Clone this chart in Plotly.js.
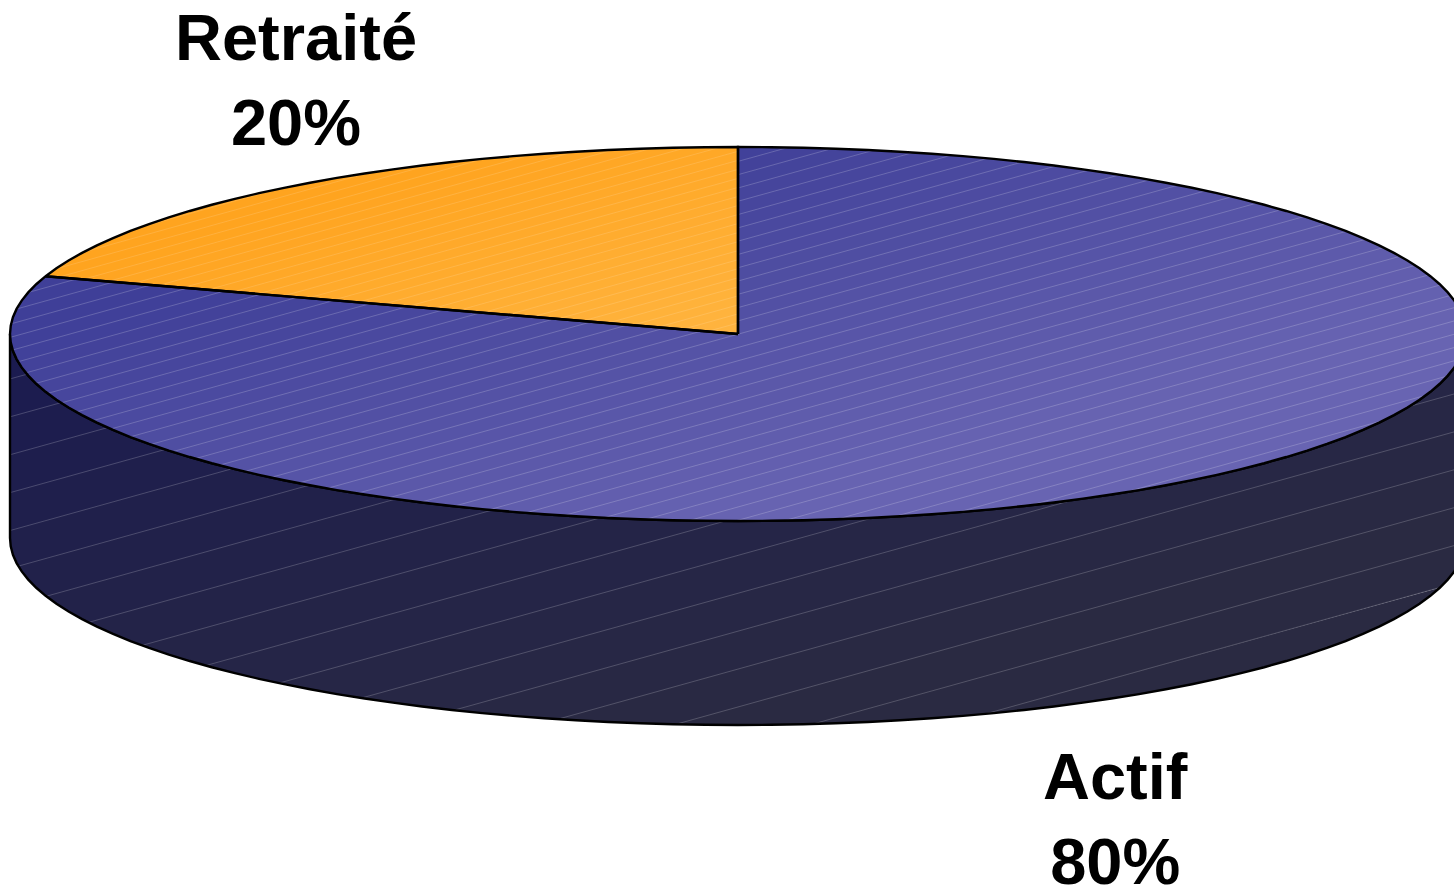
<!DOCTYPE html>
<html><head><meta charset="utf-8">
<script src="https://cdn.plot.ly/plotly-3.0.1.min.js"></script>
<style>html,body{margin:0;padding:0;background:#fff;overflow:hidden}#c{width:1454px;height:890px}</style>
</head><body><div id="c"></div>
<script>
const categories = ['Actif', 'Retraité'];
const shares = [80, 20];
const faceColors = [['#3f3f98', '#6864b2'], ['#ffa41f', '#ffb43f']];
const wallColors = ['#1a1a50', '#2a2a42'];
const labelX = [1115, 296];
const labelY = [819, 80];

// Geometry of the squashed disc
const cx = 738, cy = 334, rx = 728, ry = 187, depth = 204;
const nx = 0.268, ny = 0.963;               // direction across the shading bands
const dOf = p => nx * p[0] + ny * p[1];
const total = shares.reduce((a, b) => a + b, 0);

function rimPoint(frac, dy) {
  const a = 2 * Math.PI * frac;
  return [cx + rx * Math.sin(a), cy - ry * Math.cos(a) + (dy || 0)];
}
function slicePolygon(f0, f1) {
  const pts = [[cx, cy]];
  const n = Math.max(2, Math.round((f1 - f0) * 140));
  for (let i = 0; i <= n; i++) pts.push(rimPoint(f0 + (f1 - f0) * i / n));
  return pts;
}
function wallPolygon() {
  const pts = [];
  for (let i = 0; i <= 70; i++) pts.push(rimPoint(0.25 + 0.5 * i / 70));
  for (let i = 70; i >= 0; i--) pts.push(rimPoint(0.25 + 0.5 * i / 70, depth));
  return pts;
}
function clip(poly, limit, keepAbove) {
  const out = [];
  const inside = p => keepAbove ? dOf(p) >= limit : dOf(p) <= limit;
  for (let i = 0; i < poly.length; i++) {
    const a = poly[i], b = poly[(i + 1) % poly.length];
    const ia = inside(a), ib = inside(b);
    if (ia) out.push(a);
    if (ia !== ib) {
      const t = (limit - dOf(a)) / (dOf(b) - dOf(a));
      out.push([a[0] + t * (b[0] - a[0]), a[1] + t * (b[1] - a[1])]);
    }
  }
  return out;
}
function hex(c) { return [1, 3, 5].map(i => parseInt(c.substr(i, 2), 16)); }
function mix(c0, c1, t) {
  t = Math.min(1, Math.max(0, t));
  const a = hex(c0), b = hex(c1);
  return 'rgb(' + a.map((v, i) => Math.round(v + (b[i] - v) * t)).join(',') + ')';
}
const closed = pts => ({ x: pts.map(p => p[0]).concat(pts[0][0]), y: pts.map(p => p[1]).concat(pts[0][1]) });

function shaded(poly, colors, from, to, phase, step, seamAlpha) {
  const ds = poly.map(dOf);
  const lo = Math.min(...ds), hi = Math.max(...ds);
  const k0 = Math.floor((lo - phase) / step) - 1, k1 = Math.ceil((hi - phase) / step) + 1;
  const traces = [], sx = [], sy = [];
  for (let k = k0; k <= k1; k++) {
    const a = phase + k * step, b = a + step;
    const part = clip(clip(poly, a, true), b + 1, false);
    if (part.length > 2) {
      const xy = closed(part);
      traces.push({ type: 'scatter', mode: 'lines', x: xy.x, y: xy.y, fill: 'toself',
        fillcolor: mix(colors[0], colors[1], ((a + b) / 2 - from) / (to - from)),
        line: { width: 0 }, hoverinfo: 'skip', showlegend: false });
    }
    const hits = [];
    for (let i = 0; i < poly.length; i++) {
      const p = poly[i], q = poly[(i + 1) % poly.length];
      const dp = dOf(p) - a, dq = dOf(q) - a;
      if ((dp < 0) !== (dq < 0)) {
        const t = dp / (dp - dq);
        hits.push([p[0] + t * (q[0] - p[0]), p[1] + t * (q[1] - p[1])]);
      }
    }
    hits.sort((u, v) => u[0] - v[0]);
    for (let i = 0; i + 1 < hits.length; i += 2) {
      sx.push(hits[i][0], hits[i + 1][0], null);
      sy.push(hits[i][1], hits[i + 1][1], null);
    }
  }
  traces.push({ type: 'scatter', mode: 'lines', x: sx, y: sy,
    line: { color: 'rgba(255,255,255,' + seamAlpha + ')', width: 0.8 }, hoverinfo: 'skip', showlegend: false, connectgaps: false });
  return traces;
}
function outline(poly) {
  const xy = closed(poly);
  return { type: 'scatter', mode: 'lines', x: xy.x, y: xy.y,
    line: { color: '#000', width: 2.4, simplify: false }, hoverinfo: 'skip', showlegend: false };
}

const data = [];
const wall = wallPolygon();
data.push(...shaded(wall, wallColors, 330, 900, 513.6, 36.5, 0.25));
data.push(outline(wall));

const activeEnd = shares[0] / total;
const activeFace = slicePolygon(0, activeEnd);
const retiredFace = slicePolygon(activeEnd, 1);
data.push(...shaded(activeFace, faceColors[0], 325, 700, 545.2, 12.8, 0.25));
data.push(...shaded(retiredFace, faceColors[1], 276, 514, 300, 8.7, 0.18));
data.push(outline(activeFace));
data.push(outline(retiredFace));

const annotations = categories.map((c, i) => ({
  x: labelX[i], y: labelY[i], xref: 'x', yref: 'y', xanchor: 'center', yanchor: 'middle',
  text: '<b>' + c + '</b><br><b>' + shares[i] + '%</b>', showarrow: false,
  font: { family: '"Liberation Sans", Arial, sans-serif', size: 65, color: '#000' }
}));

Plotly.newPlot('c', data, {
  width: 1454, height: 890, margin: { l: 0, r: 0, t: 0, b: 0 },
  paper_bgcolor: '#fff', plot_bgcolor: '#fff', showlegend: false, hovermode: false,
  xaxis: { range: [0, 1454], visible: false, fixedrange: true },
  yaxis: { range: [890, 0], visible: false, fixedrange: true },
  annotations
}, { displayModeBar: false, staticPlot: true });
</script></body></html>
